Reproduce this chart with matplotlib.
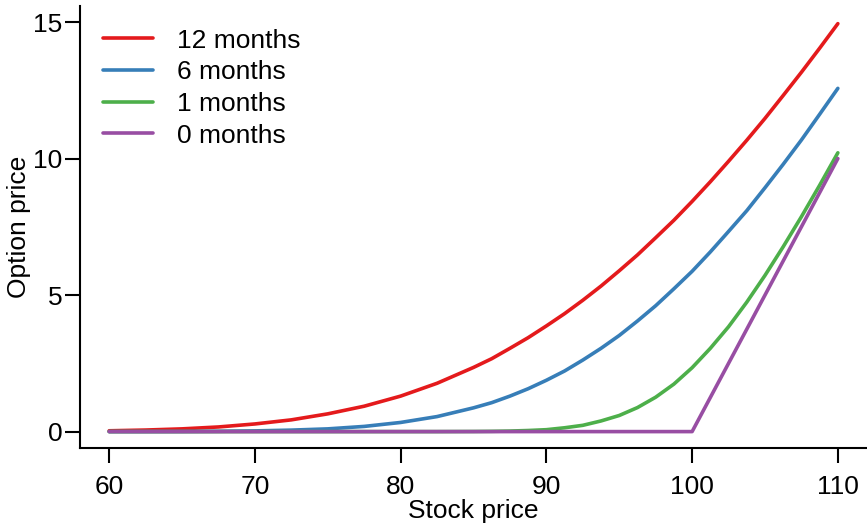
import matplotlib
matplotlib.use("Agg")
import matplotlib.pyplot as plt

plt.rcParams['font.family'] = ['Liberation Sans', 'DejaVu Sans']

# stock prices where the curves were read
stock = [60, 62.5, 65, 67.5, 70, 72.5, 75, 77.5, 80, 82.5, 85, 86.25, 87.5, 88.75,
         90, 91.25, 92.5, 93.75, 95, 96.25, 97.5, 98.75, 100, 101.25, 102.5,
         103.75, 105, 106.25, 107.5, 108.75, 110]

price_12m = [0.03, 0.057, 0.10, 0.17, 0.28, 0.43, 0.65, 0.93, 1.30, 1.77, 2.35, 2.67,
             3.05, 3.44, 3.87, 4.32, 4.81, 5.33, 5.89, 6.47, 7.10, 7.74, 8.43, 9.15,
             9.90, 10.67, 11.47, 12.31, 13.16, 14.04, 14.94]
price_6m = [0.001, 0.002, 0.005, 0.012, 0.026, 0.054, 0.10, 0.19, 0.335, 0.55, 0.87,
            1.06, 1.30, 1.57, 1.88, 2.22, 2.62, 3.05, 3.52, 4.05, 4.61, 5.23, 5.87,
            6.58, 7.33, 8.09, 8.93, 9.79, 10.68, 11.62, 12.57]
price_1m = [0, 0, 0, 0, 0, 0, 0, 0, 0, 0, 0.004, 0.01, 0.02, 0.04, 0.07, 0.14,
            0.23, 0.39, 0.59, 0.88, 1.26, 1.74, 2.34, 3.05, 3.84, 4.74, 5.72,
            6.77, 7.87, 9.02, 10.21]
stock_0m = [60, 100, 110]
price_0m = [0, 0, 10]

labels = ["12 months", "6 months", "1 months", "0 months"]
colors = ['#E41A1C', '#377EB8', '#4DAF4A', '#984EA3']

fig = plt.figure(figsize=(8.67, 5.25), dpi=100)
ax = fig.add_axes([0.0923, 0.1467, 0.9077, 0.8426])

ax.plot(stock, price_12m, color=colors[0], lw=2.6, label=labels[0], solid_capstyle='round')
ax.plot(stock, price_6m, color=colors[1], lw=2.6, label=labels[1], solid_capstyle='round')
ax.plot(stock, price_1m, color=colors[2], lw=2.6, label=labels[2], solid_capstyle='round')
ax.plot(stock_0m, price_0m, color=colors[3], lw=2.6, label=labels[3], solid_capstyle='round')

ax.set_xlim(58, 112)
ax.set_ylim(-0.6, 15.6)
ax.set_xticks([60, 70, 80, 90, 100, 110])
ax.set_yticks([0, 5, 10, 15])
ax.spines['top'].set_visible(False)
ax.spines['right'].set_visible(False)
for s in ['left', 'bottom']:
    ax.spines[s].set_linewidth(1.5)
ax.tick_params(direction='out', length=10.5, width=1.5, labelsize=19)
ax.tick_params(axis='x', pad=9)
ax.tick_params(axis='y', pad=2)

ax.set_xlabel('Stock price', fontsize=19, labelpad=0)
ax.set_ylabel('Option price', fontsize=19)
ax.yaxis.set_label_coords(-0.062, 0.5)

ax.legend(frameon=False, loc='upper left', bbox_to_anchor=(0.0, 1.0),
          fontsize=19, handlelength=1.9, handletextpad=0.9, labelspacing=0.29,
          borderaxespad=0.47)

fig.savefig('out.png', dpi=100)
